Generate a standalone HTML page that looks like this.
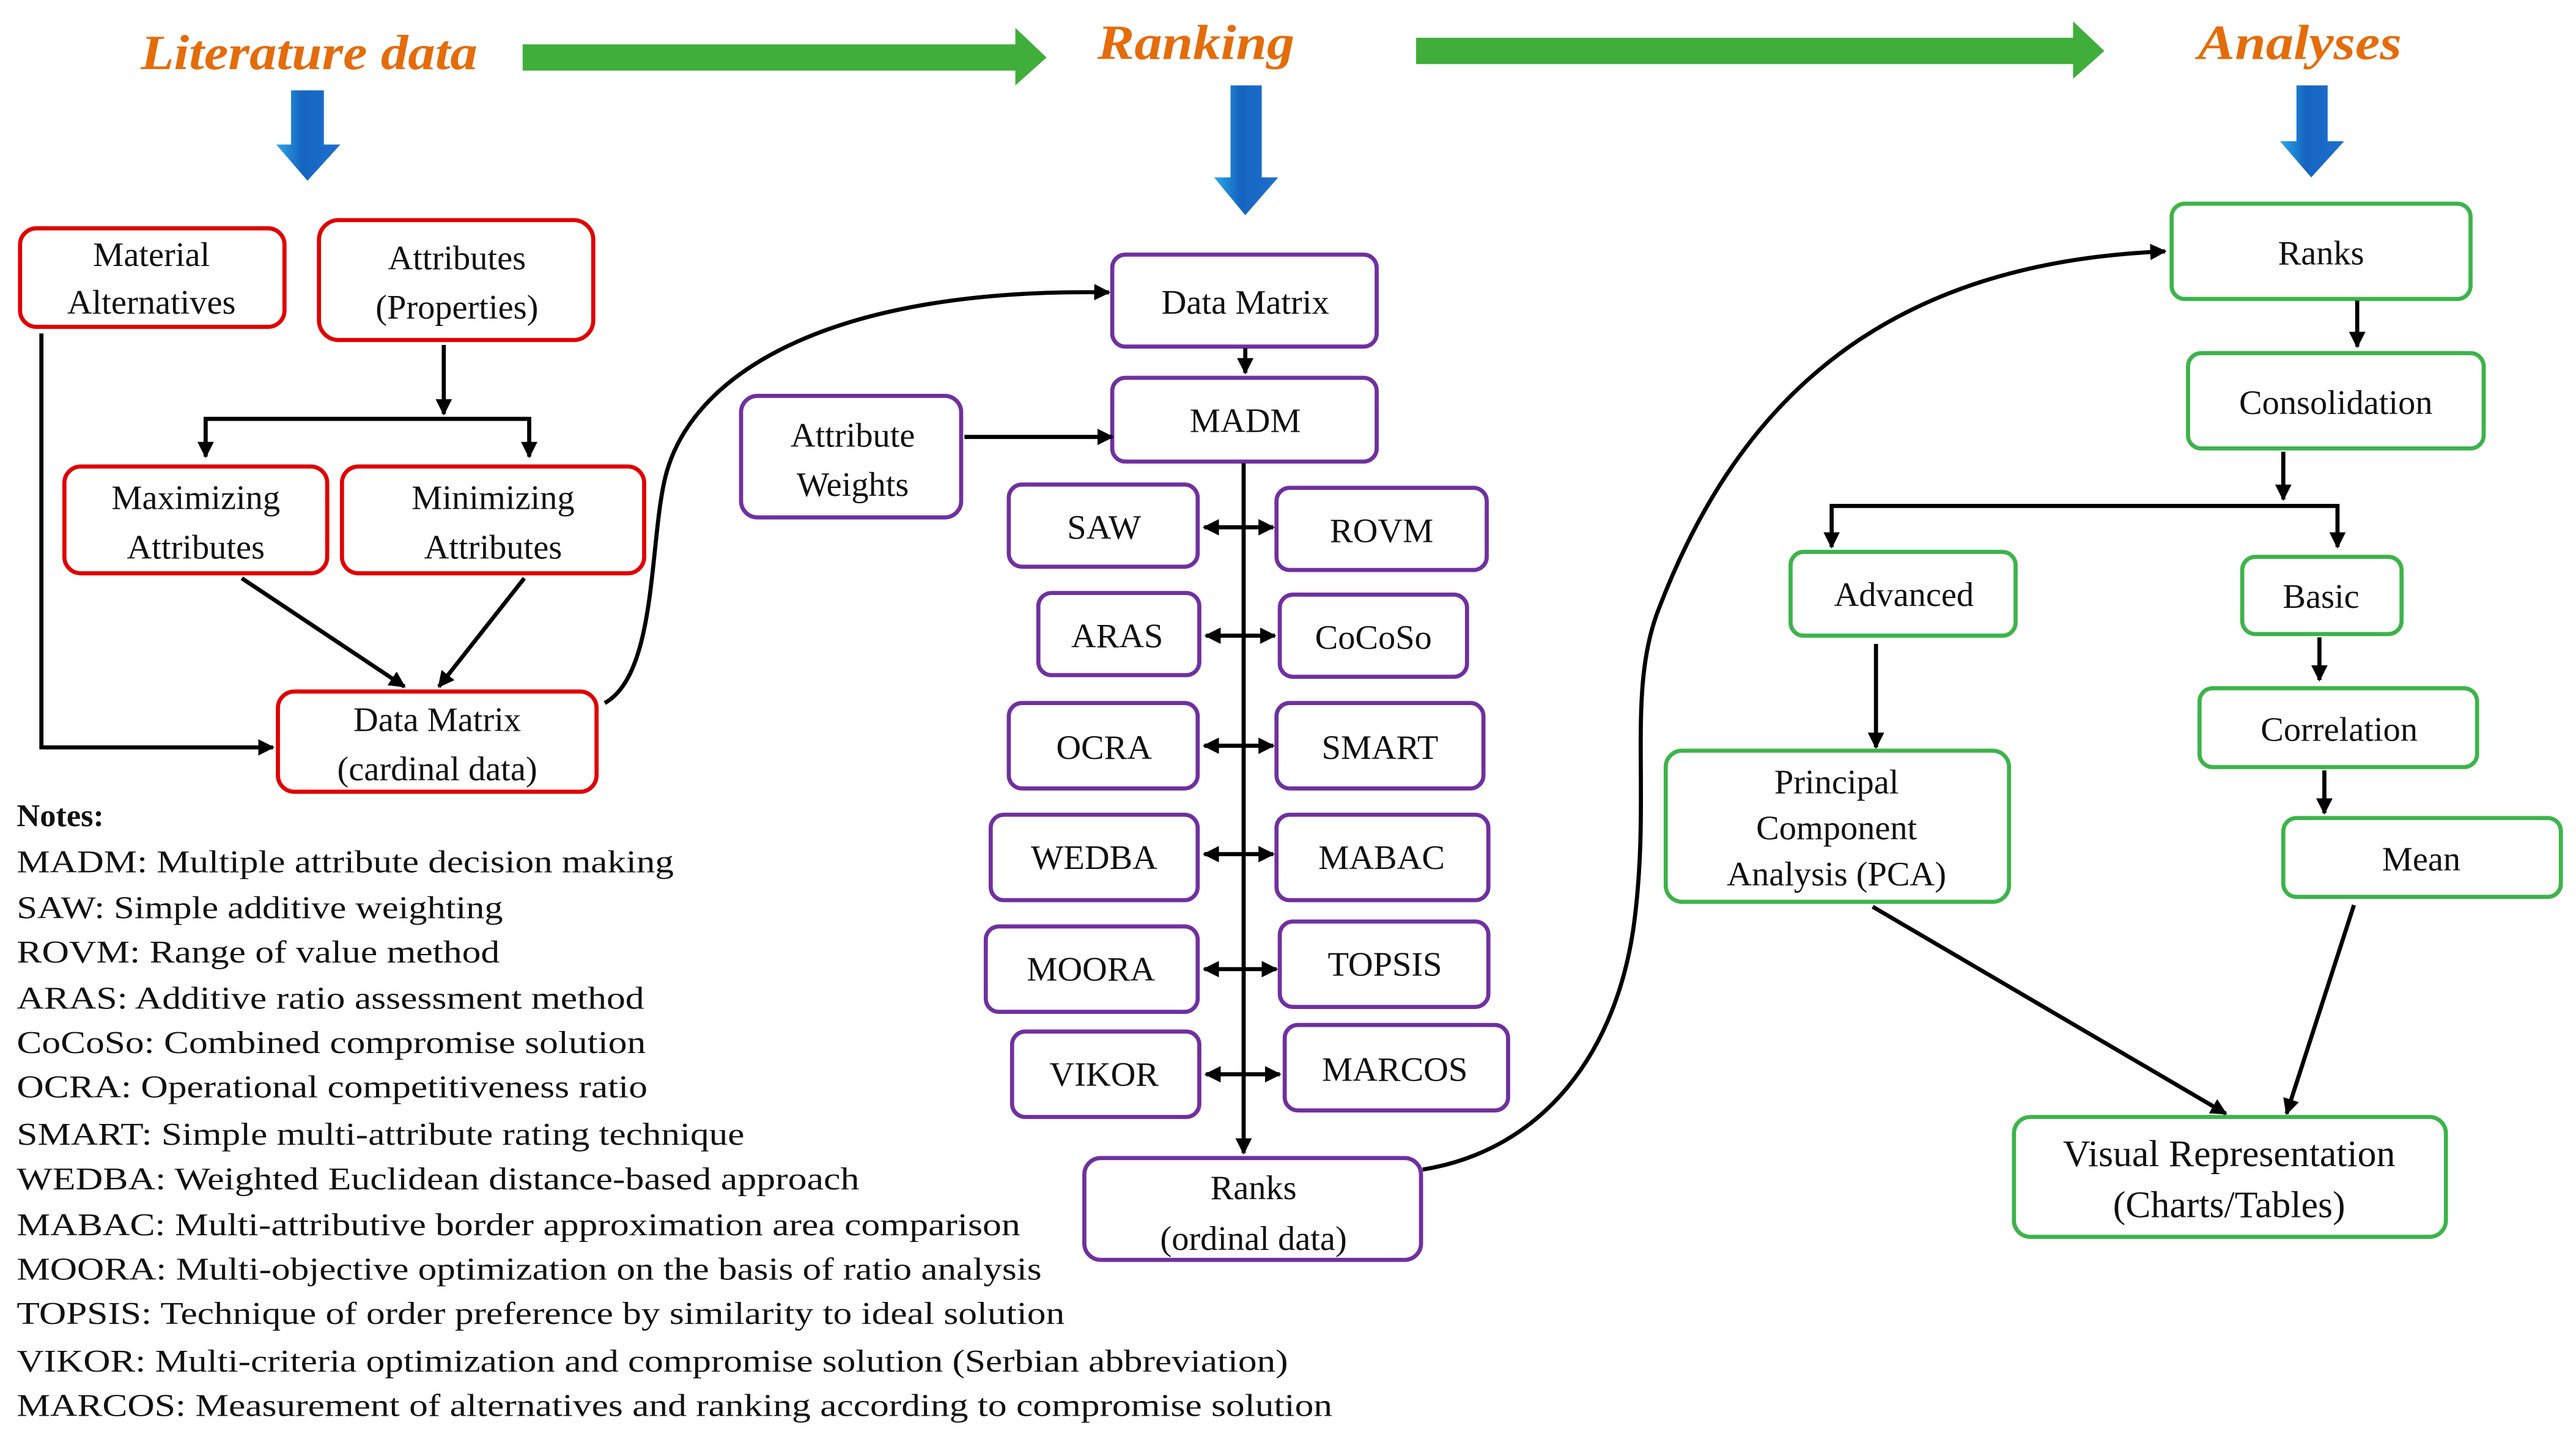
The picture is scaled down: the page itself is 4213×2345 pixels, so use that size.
<!DOCTYPE html>
<html><head><meta charset="utf-8"><style>
html,body{margin:0;padding:0;background:#fff;}
svg{display:block;}
svg text{font-family:"Liberation Serif","DejaVu Serif",serif !important;fill:#111;}
.t{font-size:21px;text-anchor:middle;}
.n{font-size:19.5px;}
.h{font-size:30px;font-style:italic;font-weight:bold;fill:#e46c0a !important;text-anchor:middle;}
.r{fill:#fff;stroke:#e00000;stroke-width:2.5;}
.p{fill:#fff;stroke:#7030a0;stroke-width:2.5;}
.g{fill:#fff;stroke:#3cb44a;stroke-width:2.5;}
.l{fill:none;stroke:#000;stroke-width:2.5;}
</style></head><body>
<svg width="4213" height="2345" viewBox="0 0 1568 873" xmlns="http://www.w3.org/2000/svg" font-family="Liberation Serif, serif">
<defs>
<marker id="a" viewBox="0 0 10 10" refX="9" refY="5" markerWidth="4" markerHeight="4" orient="auto-start-reverse"><path d="M0,0L10,5L0,10z" fill="#000"/></marker>
<linearGradient id="bl" x1="0" x2="1"><stop offset="0" stop-color="#2aa8e8"/><stop offset="0.4" stop-color="#1565c0"/><stop offset="1" stop-color="#1e6fd0"/></linearGradient>
</defs>
<text class="h" x="188" y="42" textLength="205" lengthAdjust="spacingAndGlyphs">Literature data</text>
<text class="h" x="728" y="36" textLength="120" lengthAdjust="spacingAndGlyphs">Ranking</text>
<text class="h" x="1400" y="36" textLength="124" lengthAdjust="spacingAndGlyphs">Analyses</text>
<path d="M318,27H618V17L637,35L618,52V43H318z" fill="#3fae3a"/>
<path d="M862,23H1262V13L1281,31L1262,48V39H862z" fill="#3fae3a"/>
<path d="M177,55H197V88H207L187,110L168,88H177z" fill="url(#bl)"/>
<path d="M749,52H768V108H778L758,131L739,108H749z" fill="url(#bl)"/>
<path d="M1398,52H1417V86H1427L1407,108L1388,86H1398z" fill="url(#bl)"/>

<rect class="r" x="12" y="139" width="161" height="60" rx="10"/>
<text class="t" x="92" y="162">Material</text><text class="t" x="92" y="191">Alternatives</text>
<rect class="r" x="194" y="134" width="167" height="73" rx="12"/>
<text class="t" x="278" y="164">Attributes</text><text class="t" x="278" y="194">(Properties)</text>
<rect class="r" x="39" y="284" width="160" height="65" rx="10"/>
<text class="t" x="119" y="310">Maximizing</text><text class="t" x="119" y="340">Attributes</text>
<rect class="r" x="208" y="284" width="184" height="65" rx="10"/>
<text class="t" x="300" y="310">Minimizing</text><text class="t" x="300" y="340">Attributes</text>
<rect class="r" x="169" y="421" width="194" height="61" rx="10"/>
<text class="t" x="266" y="445">Data Matrix</text><text class="t" x="266" y="475">(cardinal data)</text>
<path class="l" d="M270,210V252" marker-end="url(#a)"/>
<path class="l" d="M125,278V255H322V278" marker-start="url(#a)" marker-end="url(#a)"/>
<path class="l" d="M25,203V455H166" marker-end="url(#a)"/>
<path class="l" d="M147,352L246,418" marker-end="url(#a)"/>
<path class="l" d="M319,352L267,418" marker-end="url(#a)"/>
<path class="l" d="M368,428C400,410 395,330 405,290C420,230 500,175 675,178" marker-end="url(#a)"/>

<text class="n" x="10" y="503" style="font-weight:bold">Notes:</text>
<text class="n" x="10" y="531" textLength="400" lengthAdjust="spacingAndGlyphs">MADM:  Multiple  attribute  decision making</text>
<text class="n" x="10" y="559" textLength="296" lengthAdjust="spacingAndGlyphs">SAW: Simple additive weighting</text>
<text class="n" x="10" y="586" textLength="294" lengthAdjust="spacingAndGlyphs">ROVM: Range of value  method</text>
<text class="n" x="10" y="614" textLength="382" lengthAdjust="spacingAndGlyphs">ARAS: Additive ratio assessment method</text>
<text class="n" x="10" y="641" textLength="383" lengthAdjust="spacingAndGlyphs">CoCoSo: Combined compromise solution</text>
<text class="n" x="10" y="668" textLength="384" lengthAdjust="spacingAndGlyphs">OCRA: Operational competitiveness ratio</text>
<text class="n" x="10" y="697" textLength="443" lengthAdjust="spacingAndGlyphs">SMART: Simple multi-attribute  rating technique</text>
<text class="n" x="10" y="724" textLength="513" lengthAdjust="spacingAndGlyphs">WEDBA:  Weighted Euclidean distance-based approach</text>
<text class="n" x="10" y="752" textLength="611" lengthAdjust="spacingAndGlyphs">MABAC: Multi-attributive  border approximation area comparison</text>
<text class="n" x="10" y="779" textLength="624" lengthAdjust="spacingAndGlyphs">MOORA: Multi-objective  optimization  on the basis of ratio analysis</text>
<text class="n" x="10" y="806" textLength="638" lengthAdjust="spacingAndGlyphs">TOPSIS: Technique of order preference by similarity  to ideal solution</text>
<text class="n" x="10" y="835" textLength="774" lengthAdjust="spacingAndGlyphs">VIKOR: Multi-criteria  optimization  and compromise solution (Serbian abbreviation)</text>
<text class="n" x="10" y="862" textLength="801" lengthAdjust="spacingAndGlyphs">MARCOS: Measurement  of alternatives  and ranking  according to compromise solution</text>

<rect class="p" x="677" y="155" width="161" height="56" rx="8"/><text class="t" x="758" y="191">Data Matrix</text>
<rect class="p" x="677" y="230" width="161" height="51" rx="8"/><text class="t" x="758" y="263">MADM</text>
<rect class="p" x="451" y="241" width="134" height="74" rx="10"/>
<text class="t" x="519" y="272">Attribute</text><text class="t" x="519" y="302">Weights</text>
<path class="l" d="M587,266H677" marker-end="url(#a)"/>
<path class="l" d="M758,212V227" marker-end="url(#a)"/>
<path class="l" d="M757,282V702" marker-end="url(#a)"/>
<rect class="p" x="614" y="295" width="115" height="50" rx="8"/><text class="t" x="672" y="328">SAW</text>
<rect class="p" x="777" y="297" width="128" height="50" rx="8"/><text class="t" x="841" y="330">ROVM</text>
<rect class="p" x="632" y="361" width="98" height="50" rx="8"/><text class="t" x="680" y="394">ARAS</text>
<rect class="p" x="779" y="362" width="114" height="50" rx="8"/><text class="t" x="836" y="395">CoCoSo</text>
<rect class="p" x="614" y="428" width="115" height="52" rx="8"/><text class="t" x="672" y="462">OCRA</text>
<rect class="p" x="777" y="428" width="126" height="52" rx="8"/><text class="t" x="840" y="462">SMART</text>
<rect class="p" x="603" y="496" width="126" height="52" rx="8"/><text class="t" x="666" y="529">WEDBA</text>
<rect class="p" x="777" y="496" width="129" height="52" rx="8"/><text class="t" x="841" y="529">MABAC</text>
<rect class="p" x="600" y="564" width="129" height="52" rx="8"/><text class="t" x="664" y="597">MOORA</text>
<rect class="p" x="779" y="561" width="127" height="52" rx="8"/><text class="t" x="843" y="594">TOPSIS</text>
<rect class="p" x="616" y="628" width="114" height="52" rx="8"/><text class="t" x="672" y="661">VIKOR</text>
<rect class="p" x="782" y="624" width="136" height="52" rx="8"/><text class="t" x="849" y="658">MARCOS</text>
<path class="l" d="M733,321H775" marker-start="url(#a)" marker-end="url(#a)"/>
<path class="l" d="M734,387H776" marker-start="url(#a)" marker-end="url(#a)"/>
<path class="l" d="M733,454H775" marker-start="url(#a)" marker-end="url(#a)"/>
<path class="l" d="M733,520H775" marker-start="url(#a)" marker-end="url(#a)"/>
<path class="l" d="M733,590H777" marker-start="url(#a)" marker-end="url(#a)"/>
<path class="l" d="M734,654H779" marker-start="url(#a)" marker-end="url(#a)"/>
<rect class="p" x="660" y="705" width="205" height="62" rx="10"/>
<text class="t" x="763" y="730">Ranks</text><text class="t" x="763" y="761">(ordinal data)</text>
<path class="l" d="M866,712C940,700 985,640 995,560C1005,480 990,420 1010,370C1060,240 1150,160 1318,153" marker-end="url(#a)"/>

<rect class="g" x="1322" y="124" width="182" height="58" rx="8"/><text class="t" x="1413" y="161">Ranks</text>
<rect class="g" x="1332" y="215" width="180" height="58" rx="8"/><text class="t" x="1422" y="252">Consolidation</text>
<path class="l" d="M1435,183V211" marker-end="url(#a)"/>
<path class="l" d="M1390,275V304" marker-end="url(#a)"/>
<path class="l" d="M1115,333V308H1423V333" marker-start="url(#a)" marker-end="url(#a)"/>
<rect class="g" x="1090" y="336" width="137" height="51" rx="8"/><text class="t" x="1159" y="369">Advanced</text>
<rect class="g" x="1365" y="339" width="97" height="47" rx="8"/><text class="t" x="1413" y="370">Basic</text>
<path class="l" d="M1142,392V455" marker-end="url(#a)"/>
<path class="l" d="M1412,388V414" marker-end="url(#a)"/>
<rect class="g" x="1339" y="419" width="169" height="48" rx="8"/><text class="t" x="1424" y="451">Correlation</text>
<path class="l" d="M1415,469V495" marker-end="url(#a)"/>
<rect class="g" x="1390" y="498" width="169" height="48" rx="8"/><text class="t" x="1474" y="530">Mean</text>
<rect class="g" x="1014" y="457" width="209" height="92" rx="10"/>
<text class="t" x="1118" y="483">Principal</text><text class="t" x="1118" y="511">Component</text><text class="t" x="1118" y="539">Analysis  (PCA)</text>
<path class="l" d="M1140,552L1355,678" marker-end="url(#a)"/>
<path class="l" d="M1433,551L1392,678" marker-end="url(#a)"/>
<rect class="g" x="1226" y="680" width="263" height="73" rx="10"/>
<text class="t" x="1357" y="710" style="font-size:23px">Visual Representation</text>
<text class="t" x="1357" y="741" style="font-size:23px">(Charts/Tables)</text>
</svg>
</body></html>
